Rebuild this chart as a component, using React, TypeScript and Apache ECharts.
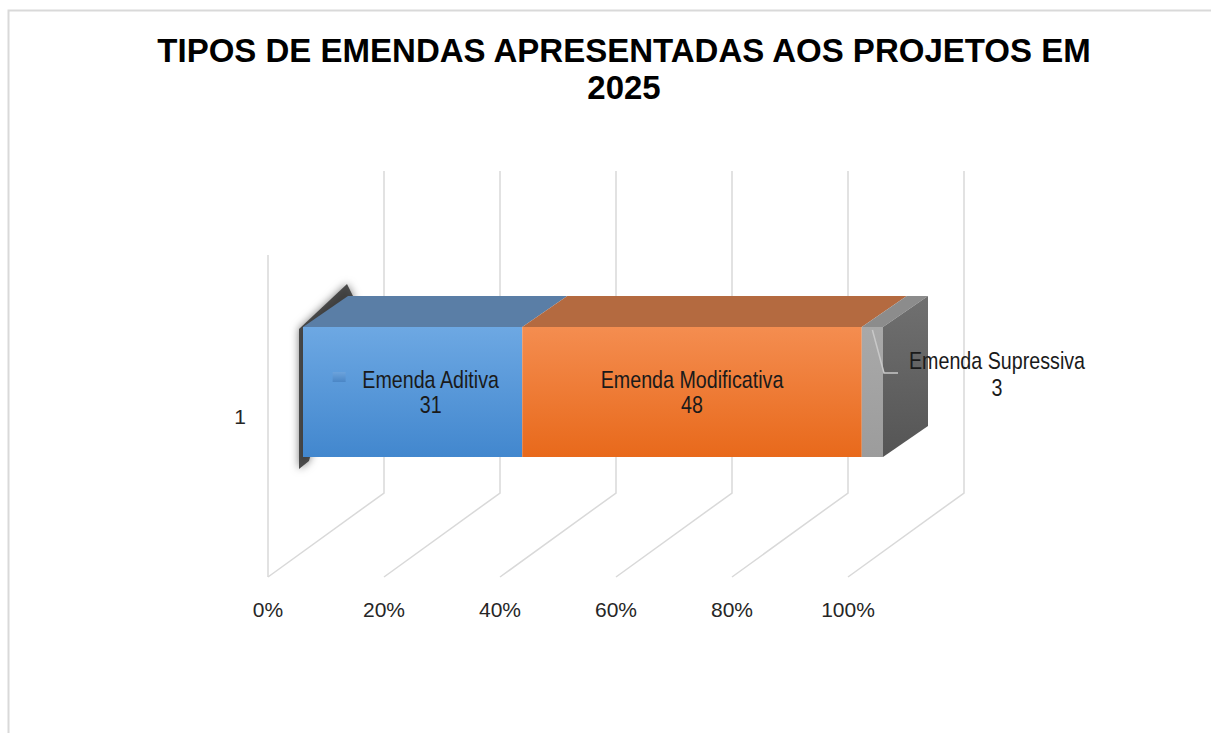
import React, { useEffect, useRef } from "react";
import * as echarts from "echarts";

const SANS = '"Liberation Sans", Arial, sans-serif';

const TITLE = "TIPOS DE EMENDAS APRESENTADAS AOS PROJETOS EM\n2025";
const categories = ["1"];
const seriesNames = ["Emenda Aditiva", "Emenda Modificativa", "Emenda Supressiva"];
const seriesValues = [31, 48, 3];
const xTickValues = [0, 20, 40, 60, 80, 100];

const frontColors = [
  ["#6DA8E3", "#4287CE"],
  ["#F48D50", "#E8691B"],
  ["#A9A9A9", "#9C9C9C"],
];
const topColors = ["#5A7EA6", "#B46A40", "#8C8C8C"];

export default function App() {
  const ref = useRef<HTMLDivElement>(null);

  useEffect(() => {
    if (!ref.current) return;
    const chart = echarts.init(ref.current, undefined, { renderer: "svg" });

    const total = seriesValues.reduce((a, b) => a + b, 0);
    let cum = 0;
    const segData = seriesValues.map((v, i) => {
      const s = (cum / total) * 100;
      cum += v;
      const e = (cum / total) * 100;
      return { value: [s, e, 0, v], name: seriesNames[i] };
    });

    const DX = 116, DY = 84; // floor depth
    const BX = 35, BY = 24; // bar position in depth
    const BDX = 45, BDY = 31; // bar depth
    const BH = 130;
    const NARROW_SCALE = 0.82;

    const labelText = (text: string, x: number, y: number, lh: number) => ({
      type: "text",
      x,
      y,
      scaleX: NARROW_SCALE,
      style: {
        text,
        x: 0,
        y: 0,
        align: "center",
        verticalAlign: "middle",
        fontFamily: SANS,
        fontSize: 24,
        lineHeight: lh,
        fill: "#1a1a1a",
      },
    });

    const option: any = {
      animation: false,
      backgroundColor: "#ffffff",
      title: {
        text: TITLE,
        left: 619,
        top: 27,
        textAlign: "center",
        textStyle: {
          fontFamily: SANS,
          fontWeight: "bold",
          fontSize: 33,
          lineHeight: 37,
          color: "#000000",
        },
      },
      graphic: [
        {
          type: "rect",
          silent: true,
          shape: { x: 8.5, y: 10.5, width: 1300, height: 800 },
          style: { fill: "none", stroke: "#D9D9D9", lineWidth: 2 },
        },
      ],
      grid: { left: 268, right: 363, top: 255, bottom: 156, containLabel: false },
      xAxis: {
        type: "value",
        min: 0,
        max: 100,
        interval: 20,
        axisLine: { show: false },
        axisTick: { show: false },
        splitLine: { show: false },
        axisLabel: {
          formatter: "{value}%",
          margin: 22,
          fontFamily: SANS,
          fontSize: 21,
          color: "#262626",
        },
      },
      yAxis: {
        type: "category",
        data: categories,
        axisLine: { show: false },
        axisTick: { show: false },
        splitLine: { show: false },
        axisLabel: {
          margin: 22,
          fontFamily: SANS,
          fontSize: 21,
          color: "#262626",
        },
      },
      series: [
        {
          type: "custom",
          name: "grid",
          silent: true,
          encode: { x: 0, y: 1 },
          data: xTickValues.map((v) => [v, 0]),
          renderItem: (params: any, api: any) => {
            const v = api.value(0);
            const p = api.coord([v, 0]);
            const cs = params.coordSys;
            const bottom = cs.y + cs.height;
            const top = cs.y;
            const x = p[0];
            const children: any[] = [
              {
                type: "polyline",
                shape: {
                  points: [
                    [x, bottom],
                    [x + DX, bottom - DY],
                    [x + DX, top - DY],
                  ],
                },
                style: { fill: "none", stroke: "#D9D9D9", lineWidth: 1.5 },
              },
            ];
            if (v === 0) {
              children.push({
                type: "line",
                shape: { x1: x, y1: top, x2: x, y2: bottom },
                style: { stroke: "#D9D9D9", lineWidth: 1.5 },
              });
            }
            return { type: "group", children };
          },
        },
        {
          type: "custom",
          name: "Emendas",
          encode: { x: [0, 1], y: 2 },
          data: segData,
          renderItem: (params: any, api: any) => {
            const i = params.dataIndex;
            const n = seriesValues.length;
            const pS = api.coord([api.value(0), api.value(2)]);
            const pE = api.coord([api.value(1), api.value(2)]);
            const x0 = pS[0] + BX;
            const x1 = pE[0] + BX;
            const cy = pS[1] - BY;
            const yT = cy - BH / 2;
            const yB = cy + BH / 2;
            const children: any[] = [];
            if (i === 0) {
              children.push({
                type: "polygon",
                shape: {
                  points: [
                    [x0 - 4, yT + 2],
                    [x0 + BDX - 1, yT - BDY - 12],
                    [x0 + BDX + 6, yT - BDY + 2],
                    [x0 + 6, yB + 4],
                    [x0 - 4, yB + 12],
                  ],
                },
                style: {
                  fill: "rgba(50,50,50,0.85)",
                  shadowBlur: 8,
                  shadowColor: "rgba(0,0,0,0.6)",
                },
              });
            }
            children.push({
              type: "polygon",
              shape: {
                points: [
                  [x0, yT],
                  [x1, yT],
                  [x1 + BDX, yT - BDY],
                  [x0 + BDX, yT - BDY],
                ],
              },
              style: { fill: topColors[i] },
            });
            if (i === n - 1) {
              children.push({
                type: "polygon",
                shape: {
                  points: [
                    [x1, yT],
                    [x1 + BDX, yT - BDY],
                    [x1 + BDX, yB - BDY],
                    [x1, yB],
                  ],
                },
                style: {
                  fill: new echarts.graphic.LinearGradient(0, 0, 0, 1, [
                    { offset: 0, color: "#707070" },
                    { offset: 1, color: "#555555" },
                  ]),
                },
              });
            }
            children.push({
              type: "rect",
              shape: { x: x0, y: yT, width: x1 - x0, height: BH },
              style: {
                fill: new echarts.graphic.LinearGradient(0, 0, 0, 1, [
                  { offset: 0, color: frontColors[i][0] },
                  { offset: 1, color: frontColors[i][1] },
                ]),
              },
            });
            const txt = seriesNames[i] + "\n" + api.value(3);
            if (i < n - 1) {
              const cx = (x0 + x1) / 2;
              if (i === 0) {
                children.push({
                  type: "rect",
                  shape: { x: cx - 80, y: cy - 20, width: 13, height: 10 },
                  style: {
                    fill: new echarts.graphic.LinearGradient(0, 0, 0, 1, [
                      { offset: 0, color: "#6CA3DC" },
                      { offset: 1, color: "#4A86C6" },
                    ]),
                  },
                });
                children.push(labelText(txt, cx + 18, cy, 25));
              } else {
                children.push(labelText(txt, cx, cy, 25));
              }
            } else {
              const mx = (x0 + x1) / 2;
              children.push({
                type: "polyline",
                shape: {
                  points: [
                    [mx, yT + 3],
                    [x1 + 1, cy - 19],
                    [x1 + 15, cy - 19],
                  ],
                },
                style: { fill: "none", stroke: "#C8C8C8", lineWidth: 1.5 },
              });
              children.push(labelText(txt, x1 + 114, cy - 18, 27));
            }
            return { type: "group", children };
          },
        },
      ],
    };

    chart.setOption(option);
    return () => chart.dispose();
  }, []);

  return (
    <div
      ref={ref}
      style={{ position: "fixed", left: 0, top: 0, width: 1211, height: 733 }}
    />
  );
}
